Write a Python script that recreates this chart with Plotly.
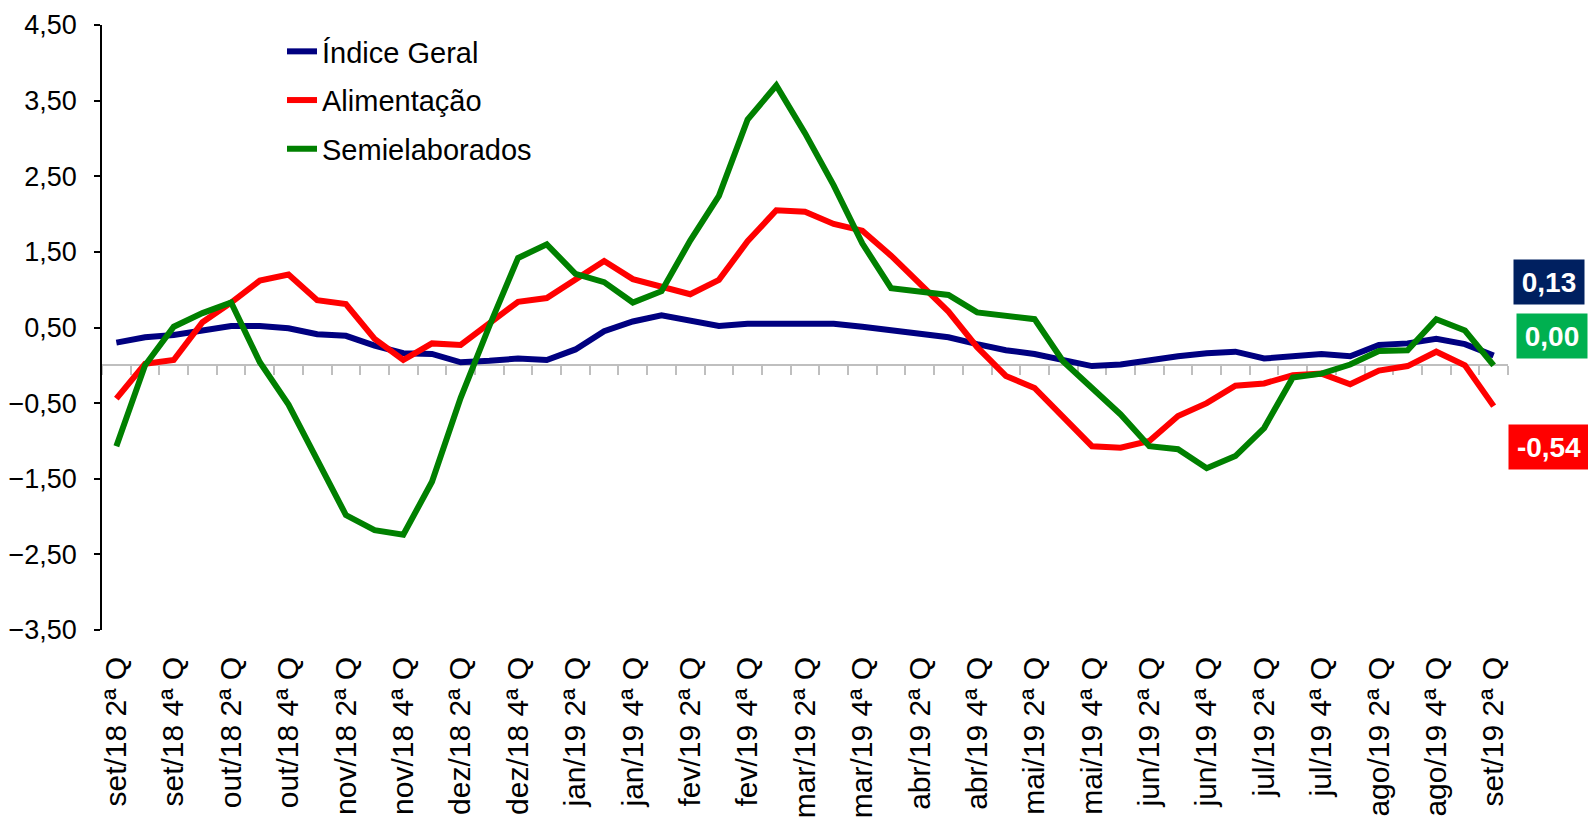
import plotly.graph_objects as go

# ---- data ----
months = ["set/18", "out/18", "nov/18", "dez/18", "jan/19", "fev/19", "mar/19",
          "abr/19", "mai/19", "jun/19", "jul/19", "ago/19", "set/19"]
quads = ["1ª Q", "2ª Q", "3ª Q", "4ª Q"]
categories = []
for m in months:
    for q in quads:
        categories.append(f"{m} {q}")
categories = categories[categories.index("set/18 2ª Q"):categories.index("set/19 2ª Q") + 1]

indice_geral = [0.30, 0.37, 0.40, 0.46, 0.52, 0.52, 0.49, 0.41, 0.39, 0.26,
                0.16, 0.15, 0.04, 0.06, 0.09, 0.07, 0.21, 0.45, 0.58, 0.66,
                0.58, 0.52, 0.55, 0.55, 0.55, 0.55, 0.51, 0.46, 0.41, 0.37,
                0.28, 0.20, 0.15, 0.06, -0.01, 0.01, 0.07, 0.12, 0.16, 0.18,
                0.09, 0.12, 0.15, 0.12, 0.27, 0.29, 0.35, 0.28, 0.13]
alimentacao = [-0.44, 0.02, 0.07, 0.57, 0.83, 1.12, 1.20, 0.86, 0.81, 0.35,
               0.07, 0.29, 0.27, 0.55, 0.84, 0.89, 1.14, 1.38, 1.14, 1.03,
               0.94, 1.13, 1.64, 2.05, 2.03, 1.87, 1.78, 1.45, 1.08, 0.71,
               0.24, -0.14, -0.30, -0.69, -1.07, -1.09, -1.00, -0.67, -0.50, -0.27,
               -0.24, -0.13, -0.11, -0.25, -0.07, -0.01, 0.18, 0.00, -0.54]
semielaborados = [-1.07, 0.00, 0.51, 0.69, 0.83, 0.04, -0.52, -1.23, -1.98, -2.18,
                  -2.24, -1.54, -0.43, 0.52, 1.42, 1.60, 1.21, 1.10, 0.83, 0.98,
                  1.65, 2.24, 3.25, 3.70, 3.07, 2.38, 1.61, 1.02, 0.97, 0.93,
                  0.70, 0.66, 0.61, 0.05, -0.30, -0.65, -1.07, -1.11, -1.36, -1.20,
                  -0.83, -0.16, -0.11, 0.01, 0.19, 0.20, 0.61, 0.46, 0.00]

series_names = ["Índice Geral", "Alimentação", "Semielaborados"]
series_values = [indice_geral, alimentacao, semielaborados]
series_colors = ["#000080", "#FF0000", "#008000"]
badge_colors = ["#002060", "#FF0000", "#00B050"]

y_min, y_max = -3.5, 4.5
tick_labels = categories[::2]

FONT = "Liberation Sans, Arial, sans-serif"

fig = go.Figure()

# invisible helper trace that carries the zero-line axis (x2)
fig.add_trace(go.Scatter(x=categories, y=[None] * len(categories), xaxis="x2", yaxis="y",
                         mode="lines", showlegend=False, hoverinfo="skip"))

for i, (name, vals, col) in enumerate(zip(series_names, series_values, series_colors)):
    fig.add_trace(go.Scatter(x=categories, y=vals, name=name, mode="lines",
                             line=dict(color=col, width=6), legendgroup=f"g{i}"))

W, H = 1588, 820
ml, mr, mt, mb = 102, 80, 25, 190
pw, ph = W - ml - mr, H - mt - mb

def px_to_paper(xp, yp):
    return (xp - ml) / pw, (H - mb - yp) / ph

# end-value badges (positions in layout pixels)
badge_pos = [(1549, 282, 68), (1549, 447, 78), (1552, 336, 68)]
annotations = []
for vals, bc, (bx, by, bw) in zip(series_values, badge_colors, badge_pos):
    px, py = px_to_paper(bx, by)
    txt = f"{vals[-1]:.2f}".replace(".", ",")
    annotations.append(dict(xref="paper", yref="paper", x=px, y=py, xanchor="center",
                            yanchor="middle", text=f"<b>{txt}</b>", showarrow=False,
                            bgcolor=bc, width=bw, height=42,
                            font=dict(family=FONT, size=28, color="white")))

lx, ly = px_to_paper(282, 26)

fig.update_layout(
    template="none",
    width=W, height=H,
    margin=dict(l=ml, r=mr, t=mt, b=mb, autoexpand=False),
    paper_bgcolor="white", plot_bgcolor="white",
    separators=",.",
    font=dict(family=FONT, color="black"),
    showlegend=True,
    hovermode="closest",
    legend=dict(x=lx, y=ly, xanchor="left", yanchor="top", bgcolor="rgba(0,0,0,0)",
                font=dict(family=FONT, size=29, color="black"), tracegroupgap=8,
                borderwidth=0),
    xaxis=dict(type="category", categoryorder="array", categoryarray=categories,
               range=[-0.5, len(categories) - 0.5], automargin=False,
               tickmode="array", tickvals=tick_labels, ticktext=tick_labels,
               tickangle=-90, ticks="", showline=False, showgrid=False, zeroline=False,
               ticklabelstandoff=20,
               tickfont=dict(family=FONT, size=30, color="black")),
    xaxis2=dict(type="category", matches="x", overlaying="x", anchor="free",
                position=(0 - y_min) / (y_max - y_min), automargin=False,
                showline=True, linecolor="#BFBFBF", linewidth=2,
                ticks="outside", tickson="boundaries", ticklen=9, tickwidth=2,
                tickcolor="#BFBFBF", showticklabels=False, showgrid=False,
                zeroline=False, layer="below traces"),
    yaxis=dict(range=[y_min, y_max], tick0=0.5, dtick=1, tickformat=".2f",
               automargin=False,
               showline=True, linecolor="black", linewidth=1.5,
               ticks="outside", ticklen=6, tickwidth=1.5, tickcolor="black",
               showgrid=False, zeroline=False, ticklabelstandoff=12,
               tickfont=dict(family=FONT, size=27, color="black")),
    annotations=annotations,
)

fig.write_html("out.html", config={"displayModeBar": False},
               post_script="document.body.style.margin='0px';")
